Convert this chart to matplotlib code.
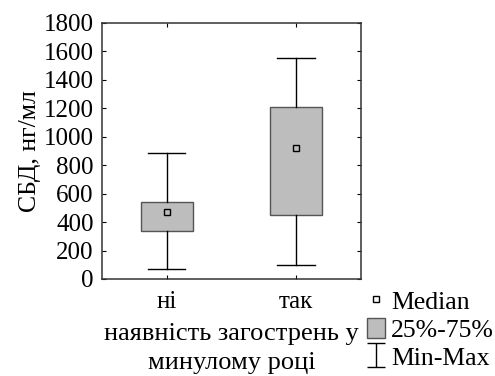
import matplotlib
matplotlib.use('Agg')
import matplotlib.pyplot as plt
from matplotlib.patches import Patch
from matplotlib.lines import Line2D
from matplotlib.path import Path

plt.rcParams['font.family'] = ['Liberation Serif', 'DejaVu Serif']

# Значення для двох груп
groups = ['ні', 'так']
medians = [469, 921]
q1 = [337, 448]
q3 = [541, 1212]
mins = [68, 96]
maxs = [884, 1552]
yticks = [0, 200, 400, 600, 800, 1000, 1200, 1400, 1600, 1800]

fig = plt.figure(figsize=(4.95, 3.76), dpi=100)
ax = fig.add_axes([0.206, 0.258, 0.523, 0.681])

stats = []
for i, name in enumerate(groups):
    stats.append({'label': name, 'med': medians[i], 'q1': q1[i], 'q3': q3[i],
                  'whislo': mins[i], 'whishi': maxs[i], 'fliers': []})

ax.bxp(stats, positions=range(len(groups)), widths=0.4, patch_artist=True,
       showfliers=False,
       boxprops=dict(facecolor='#bdbdbd', edgecolor='#555555', linewidth=1),
       whiskerprops=dict(color='black', linewidth=1),
       capprops=dict(color='black', linewidth=1),
       capwidths=0.29,
       medianprops=dict(linewidth=0))
ax.plot(range(len(groups)), medians, 's', ms=5, mfc='#bdbdbd', mec='black',
        mew=1, ls='none')

ax.set_xlim(-0.5, 1.5)
ax.set_ylim(0, 1800)
ax.set_yticks(yticks)
ax.set_xticks(range(len(groups)))
ax.set_xticklabels(groups)
ax.tick_params(direction='in', length=3, top=True, right=True,
               labelsize=18, colors='black')
ax.tick_params(axis='y', pad=6)
ax.tick_params(axis='x', pad=9)
for s in ax.spines.values():
    s.set_color('#333333')
    s.set_linewidth(1.1)

ax.set_ylabel('СБД, нг/мл', fontsize=18.5, labelpad=2)
ax.set_xlabel('наявність загострень у\nминулому році', fontsize=19,
              labelpad=7, linespacing=1.4)

# умовні позначення
verts = [(-0.75, 1), (0.75, 1), (0, 1), (0, -1), (-0.75, -1), (0.75, -1)]
codes = [Path.MOVETO, Path.LINETO, Path.MOVETO, Path.LINETO, Path.MOVETO, Path.LINETO]
minmax = Path(verts, codes)
handles = [
    Line2D([], [], marker='s', ms=4, mfc='white', mec='black', mew=1, ls='none'),
    Patch(facecolor='#bdbdbd', edgecolor='#555555'),
    Line2D([], [], marker=minmax, ms=17, mec='black', mew=1, ls='none'),
]
fig.legend(handles, ['Median', '25%-75%', 'Min-Max'], loc='upper left',
           bbox_to_anchor=(0.741, 0.23), frameon=False, fontsize=18.5,
           handlelength=0.7, handleheight=0.85, handletextpad=0.25,
           labelspacing=0.15, borderpad=0, borderaxespad=0)

fig.savefig('out.png', dpi=100)
